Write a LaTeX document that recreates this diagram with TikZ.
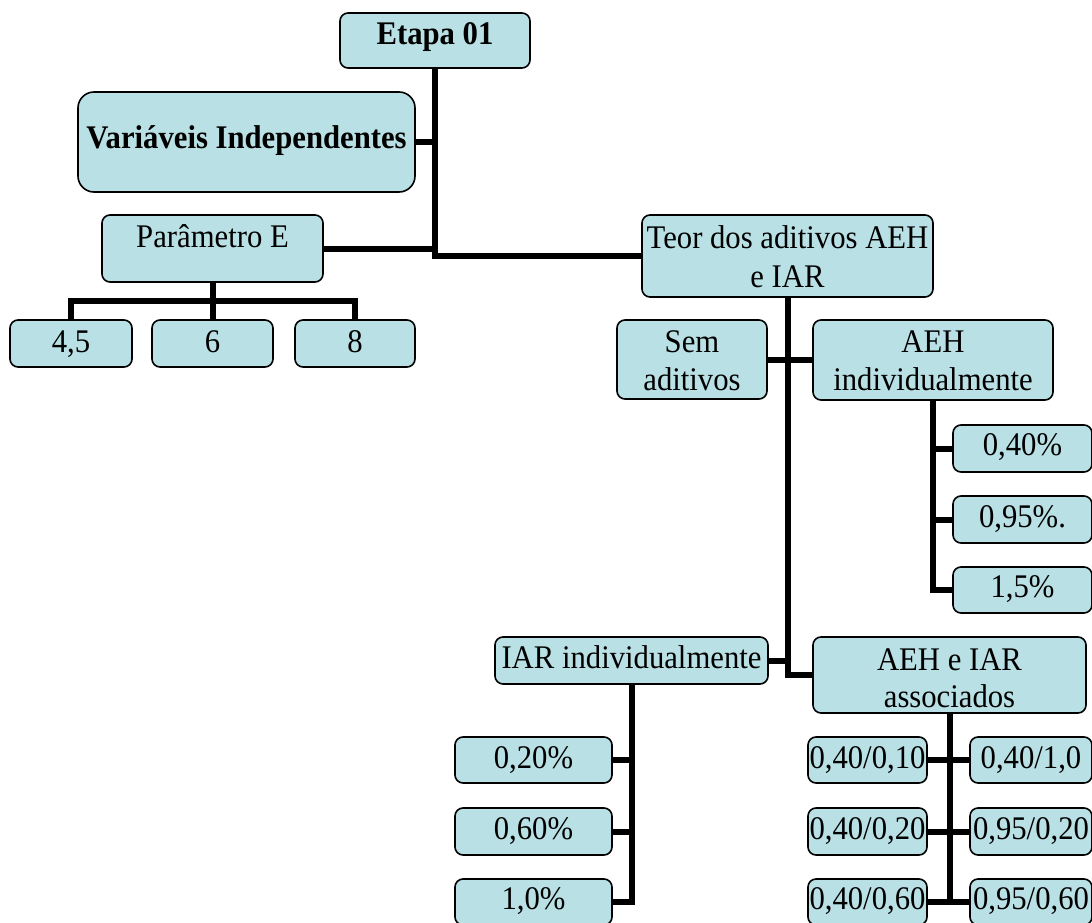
\documentclass[tikz,border=0pt]{standalone}
\usepackage{fontspec}
\setmainfont{Liberation Serif}[FakeStretch=0.93]
\usetikzlibrary{fit}
\definecolor{boxfill}{RGB}{185,224,228}
\tikzset{
  bx/.style={draw=black, line width=1.6pt, fill=boxfill, rounded corners=8pt, inner sep=0pt},
  bigbx/.style={bx, rounded corners=16pt},
  lbl/.style={anchor=base, inner sep=0pt, font=\fontsize{33}{38}\selectfont},
  blbl/.style={anchor=base, inner sep=0pt, font=\fontsize{33}{38}\selectfont\bfseries},
  conn/.style={line width=6pt, line join=miter},
}
% \cbox[style]{name}{x1,y1}{x2,y2}: a box given by two opposite corners
\newcommand\cbox[4][bx]{\node[#1, fit={(#3) (#4)}] (#2) {};}
\begin{document}
\begin{tikzpicture}[x=1pt, y=-1pt]
\useasboundingbox (0,0) rectangle (1092,923);

% boxes
\cbox{etapa}{340,13}{530,68}
\cbox[bigbx]{varind}{78,92}{415,192}
\cbox{param}{102,215}{323,282}
\cbox{e45}{10,320}{132,367}
\cbox{e6}{152,320}{273,367}
\cbox{e8}{295,320}{415,367}
\cbox{teor}{642,215}{933,297}
\cbox{sem}{617,320}{767,399}
\cbox{aeh}{813,320}{1053,400}
\cbox{h040}{953,425}{1092,472}
\cbox{h095}{953,496}{1092,543}
\cbox{h15}{953,567}{1092,613}
\cbox{iar}{495,637}{768,684}
\cbox{aehiar}{813,637}{1086,713}
\cbox{i020}{455,737}{612,783}
\cbox{i060}{455,808}{612,855}
\cbox{i10}{455,879}{612,925}
\cbox{a1}{808,737}{927,783}
\cbox{a2}{808,808}{927,855}
\cbox{a3}{808,879}{927,925}
\cbox{b1}{970,737}{1092,783}
\cbox{b2}{970,808}{1092,855}
\cbox{b3}{970,879}{1092,925}

% texts
\node[blbl] (etapa-t) at (435,45) {Etapa 01};
\node[blbl] (varind-t) at (246.5,149) {Variáveis Independentes};
\node[lbl] (param-t) at (212.5,247) {Parâmetro E};
\node[lbl] (e45-t) at (71,352) {4,5};
\node[lbl] (e6-t) at (212.5,352) {6};
\node[lbl] (e8-t) at (355,352) {8};
\node[lbl] (teor-t1) at (787.5,248) {Teor dos aditivos AEH};
\node[lbl] (teor-t2) at (787.5,287) {e IAR};
\node[lbl] (sem-t1) at (692,352) {Sem};
\node[lbl] (sem-t2) at (692,390) {aditivos};
\node[lbl] (aeh-t1) at (933,352) {AEH};
\node[lbl] (aeh-t2) at (933,390) {individualmente};
\node[lbl] (h040-t) at (1022.5,455) {0,40\%};
\node[lbl] (h095-t) at (1022.5,527) {0,95\%.};
\node[lbl] (h15-t) at (1022.5,597) {1,5\%};
\node[lbl] (iar-t) at (631.5,668) {IAR individualmente};
\node[lbl] (aehiar-t1) at (949.5,670) {AEH e IAR};
\node[lbl] (aehiar-t2) at (949.5,707) {associados};
\node[lbl] (i020-t) at (533.5,768) {0,20\%};
\node[lbl] (i060-t) at (533.5,839) {0,60\%};
\node[lbl] (i10-t) at (533.5,909) {1,0\%};
\node[lbl] (a1-t) at (867.5,768) {0,40/0,10};
\node[lbl] (a2-t) at (867.5,839) {0,40/0,20};
\node[lbl] (a3-t) at (867.5,909) {0,40/0,60};
\node[lbl] (b1-t) at (1031,768) {0,40/1,0};
\node[lbl] (b2-t) at (1031,839) {0,95/0,20};
\node[lbl] (b3-t) at (1031,909) {0,95/0,60};

% connectors
\draw[conn] (etapa.south) |- (teor.west);
\draw[conn] (varind.east) -- (varind.east -| etapa.south);
\draw[conn] (param.east) -- (param.east -| etapa.south);

\draw[conn] (param.south) -- (e6.north);
\draw[conn] (e45.north) -- ++(0,-18) -| (e8.north);

\draw[conn] (teor.south) |- (aehiar.west);
\draw[conn] (sem.east) -- (sem.east -| teor.south);
\draw[conn] (aeh.west) -- (aeh.west -| teor.south);
\draw[conn] (iar.east) -- (iar.east -| teor.south);

\draw[conn] (aeh.south) |- (h15.west);
\draw[conn] (h040.west) -- (h040.west -| aeh.south);
\draw[conn] (h095.west) -- (h095.west -| aeh.south);

\draw[conn] (iar.south) |- (i10.east);
\draw[conn] (i020.east) -- (i020.east -| iar.south);
\draw[conn] (i060.east) -- (i060.east -| iar.south);

\draw[conn] (aehiar.south) -- (aehiar.south |- a3.east);
\draw[conn] (a1.east) -- (b1.west);
\draw[conn] (a2.east) -- (b2.west);
\draw[conn] (a3.east) -- (b3.west);
\end{tikzpicture}
\end{document}
